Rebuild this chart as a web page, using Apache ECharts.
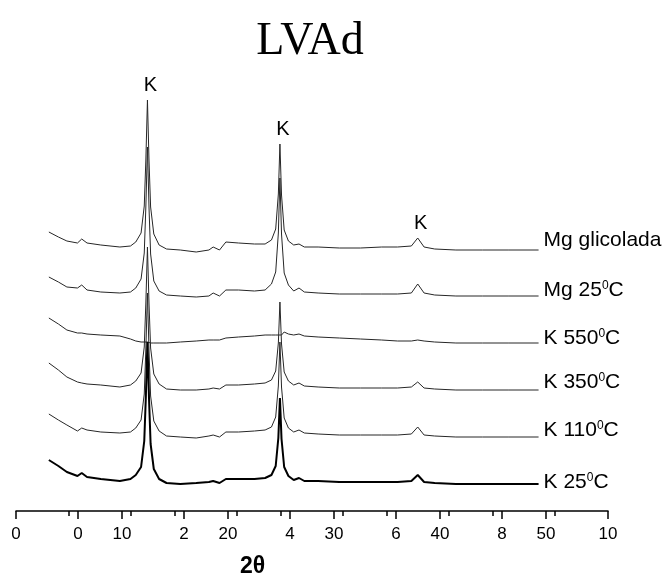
<!DOCTYPE html>
<html><head><meta charset="utf-8">
<script src="https://cdn.jsdelivr.net/npm/echarts@6/dist/echarts.min.js"></script>
<style>html,body{margin:0;padding:0;background:#fff}#c{width:668px;height:585px}</style>
</head><body><div id="c"></div>
<script>
// 2θ sample positions
const twoTheta = [3.1,4.0,4.8,5.8,6.2,6.7,8.0,9.8,10.8,11.3,11.8,12.1,12.25,12.4,12.55,12.7,13.0,13.5,14.2,15.5,17.0,18.2,18.6,19.2,19.8,21.0,22.5,23.5,24.1,24.5,24.75,24.9,25.05,25.3,25.7,26.2,26.7,27.2,28.5,30.5,32.5,34.5,36.0,37.3,37.9,38.5,39.5,41.5,44.0,46.5,49.3];
// relative intensities (arbitrary units) for each treatment
const mgGlicolada = [18,13,9,7,11,7,5,3,4, 8,17,44,90,150,89,43,16,5,1, 0,-2,0,3,0,8,7,6,6, 10,21,56,106,55,20,9,5, 6,3,3,2,2,3,3,4,12,3,1,0,0,0,0];
const mg25 = [19,14,9,8,11,6,4,3,4, 8,17,43,89,149,88,42,15,5,1, 0,-1,0,3,0,6,6,5,6, 12,24,63,118,62,23,11,5, 8,4,3,2,2,2,2,3,12,3,1,0,0,0,0];
const k550 = [25,19,13,10,10,9,8,7,4, 2,1,1,1,1,1,0,0,0,0, 1,2,3,3,3,5,6,7,8, 8,8,8,8,8,11,9,8, 9,7,6,5,4,3,2,2,3,2,1,0,0,0,0];
const k350 = [27,20,13,8,7,6,5,3,5, 9,17,43,87,143,86,42,16,6,1, 0,0,1,2,1,5,5,6,7, 10,19,47,88,46,18,9,5, 7,4,3,2,2,2,2,3,8,2,1,0,0,0,0];
const k110 = [23,17,12,6,9,7,5,4,5, 9,17,43,88,144,86,41,16,6,1, 0,-1,1,2,0,5,5,6,7, 10,20,51,95,50,19,9,5, 7,4,3,2,2,2,2,3,10,2,1,0,0,0,0];
const k25 = [24,18,12,8,11,7,5,3,5, 9,17,43,87,142,85,40,15,5,1, 0,1,2,3,1,5,5,5,6, 9,18,46,86,45,17,8,4, 6,3,3,2,2,2,2,3,9,2,1,0,0,0,0];
// stacking offsets of the patterns
const stackOffsets = [261,215,168,121,74,27];
const seriesNames = ['Mg glicolada','Mg 25{sup|0}C','K 550{sup|0}C','K 350{sup|0}C','K 110{sup|0}C','K 25{sup|0}C'];
// axis ticks
const ticksA = [0,10,20,30,40,50];
const minorTicksA = [5,15,25,35,45];
const ticksB = [0,2,4,6,8,10];
const minorTicksB = [1,3,5,7,9];
// kaolinite reflections marked "K"
const peakMarks = [12.4,24.9,37.9];

const patterns = [mgGlicolada, mg25, k550, k350, k110, k25];
const labelDy = [-10,-6,-5,-8,-7,-2];
const FONT = 'Liberation Sans, Arial, sans-serif';

const chart = echarts.init(document.getElementById('c'));
const series = patterns.map((arr, i) => {
  const s = {
    type: 'line', name: seriesNames[i], xAxisIndex: 0, yAxisIndex: 0,
    data: twoTheta.map((t, j) => [t, stackOffsets[i] + arr[j]]),
    showSymbol: false, symbol: 'none', smooth: false, animation: false, silent: true,
    lineStyle: { color: i === 5 ? '#000' : '#262626', width: i === 5 ? 2 : 1 },
    endLabel: {
      show: true, position: 'right', distance: 5, offset: [0, labelDy[i]],
      formatter: () => seriesNames[i],
      fontFamily: FONT, fontSize: 21, color: '#000',
      rich: { sup: { fontFamily: FONT, fontSize: 12, color: '#000', verticalAlign: 'top', lineHeight: 12 } }
    }
  };
  if (i === 0) {
    s.markPoint = {
      symbol: 'circle', symbolSize: 1, itemStyle: { color: 'rgba(0,0,0,0)' }, animation: false,
      label: { show: true, position: 'top', distance: 4, offset: [3, 0], formatter: 'K', fontFamily: FONT, fontSize: 20, color: '#000' },
      data: peakMarks.map(t => {
        const j = twoTheta.indexOf(t);
        return { coord: [t, stackOffsets[0] + mgGlicolada[j]] };
      })
    };
  }
  return s;
});

const tickStyle = { color: '#000', width: 1.5 };
const labelStyle = { fontFamily: FONT, fontSize: 17, color: '#000', margin: 15 };
chart.setOption({
  animation: false,
  title: { text: 'LVAd', left: 305, top: 14, textAlign: 'center',
    textStyle: { fontFamily: 'Liberation Serif, Times New Roman, serif', fontSize: 46, fontWeight: 'normal', color: '#000' } },
  grid: { left: 16, right: 60, top: 60, bottom: 74 },
  xAxis: [
    { type: 'value', min: 0, max: 55.85, position: 'bottom',
      axisLine: { show: true, lineStyle: { color: '#000', width: 1.5 } },
      axisTick: { show: true, length: 8, customValues: ticksA, lineStyle: tickStyle },
      axisLabel: Object.assign({ customValues: ticksA }, labelStyle),
      splitLine: { show: false } },
    { type: 'value', min: 0, max: 55.85, position: 'bottom',
      axisLine: { show: false },
      axisTick: { show: true, length: 5, customValues: minorTicksA, lineStyle: tickStyle },
      axisLabel: { show: false }, splitLine: { show: false } },
    { type: 'value', min: -1.17, max: 10, position: 'bottom',
      axisLine: { show: false },
      axisTick: { show: true, length: 8, customValues: ticksB, lineStyle: tickStyle },
      axisLabel: Object.assign({ customValues: ticksB }, labelStyle),
      splitLine: { show: false } },
    { type: 'value', min: -1.17, max: 10, position: 'bottom',
      axisLine: { show: false },
      axisTick: { show: true, length: 5, customValues: minorTicksB, lineStyle: tickStyle },
      axisLabel: { show: false }, splitLine: { show: false } }
  ],
  yAxis: { type: 'value', min: 0, max: 451, show: false },
  graphic: [{ type: 'text', left: 240, top: 555,
    style: { text: '2θ', fontFamily: FONT, fontSize: 23, fontWeight: 'bold', fill: '#000' } }],
  series: series
});
</script></body></html>
